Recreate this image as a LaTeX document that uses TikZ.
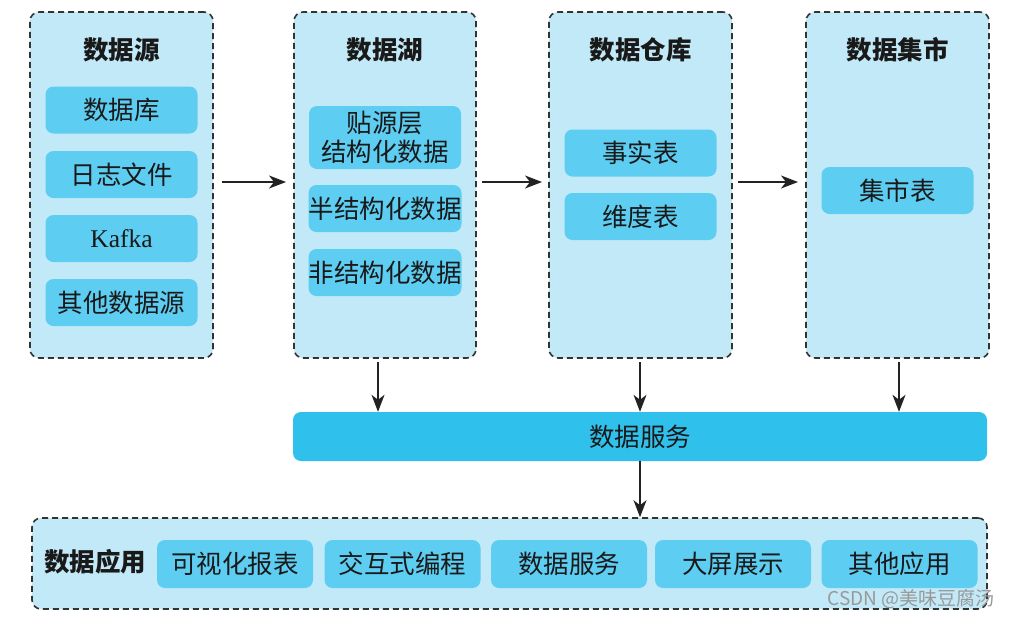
\documentclass[tikz,border=0pt]{standalone}
\usepackage{fontspec}
\setmainfont{Noto Sans CJK SC}
\newfontfamily\latinserif{Liberation Serif}
\usetikzlibrary{arrows.meta}
\definecolor{outerfill}{HTML}{C2E9F7}
\definecolor{innerfill}{HTML}{5DCDF2}
\definecolor{barfill}{HTML}{2FC1EC}
\definecolor{dashcol}{HTML}{333333}
\definecolor{arrowcol}{HTML}{222222}
\tikzset{
  outerbox/.style={draw=dashcol, fill=outerfill, line width=1.6pt, dash pattern=on 6pt off 4pt, rounded corners=9pt, inner sep=0pt},
  innerbox/.style={fill=innerfill, rounded corners=8pt, minimum width=152pt, minimum height=47pt, inner sep=0pt, font=\fontsize{25.5}{29}\selectfont, align=center, text=black!90},
  appbox/.style={innerbox, minimum width=156pt, minimum height=48pt},
  titletext/.style={font=\fontsize{25.5}{28}\selectfont\bfseries, text=black!90, inner sep=0pt},
  arr/.style={draw=arrowcol, line width=1.4pt, -{Stealth[length=17pt,width=13pt,inset=5pt]}},
}
\begin{document}
\begin{tikzpicture}[x=1pt,y=-1pt]
\useasboundingbox (0,0) rectangle (1012,619);
% outer boxes
\node[outerbox, minimum width=183pt, minimum height=346pt] (src) at (121.5,185) {};
\node[outerbox, minimum width=182pt, minimum height=346pt] (lake) at (385,185) {};
\node[outerbox, minimum width=183pt, minimum height=346pt] (dw) at (640.5,185) {};
\node[outerbox, minimum width=183pt, minimum height=346pt] (mart) at (897.5,185) {};
% titles
\node[titletext] (srct) at (121.5,50) {数据源};
\node[titletext] (laket) at (385,50) {数据湖};
\node[titletext] (dwt) at (640.5,50) {数据仓库};
\node[titletext] (martt) at (897.5,50) {数据集市};
% data source items
\node[innerbox] (s1) at (121.5,110) {数据库};
\node[innerbox] (s2) at (121.5,174.5) {日志文件};
\node[innerbox] (s3) at (121.5,238.5) {\latinserif Kafka};
\node[innerbox] (s4) at (121.5,302.5) {其他数据源};
% data lake items
\node[innerbox, minimum height=63pt] (l1) at (385,137.5) {贴源层\\结构化数据};
\node[innerbox] (l2) at (385,208.5) {半结构化数据};
\node[innerbox] (l3) at (385,272.5) {非结构化数据};
% warehouse items
\node[innerbox] (w1) at (640.5,153) {事实表};
\node[innerbox] (w2) at (640.5,216.5) {维度表};
% mart items
\node[innerbox] (m1) at (897.5,190.5) {集市表};
% service bar
\node[fill=barfill, rounded corners=8pt, minimum width=694pt, minimum height=49pt, inner sep=0pt, font=\fontsize{25.5}{29}\selectfont, text=black!90] (svc) at (640,436.5) {数据服务};
% application box
\node[outerbox, minimum width=955pt, minimum height=91pt] (app) at (509.5,563.5) {};
\node[titletext] (appt) at (95,562) {数据应用};
\node[appbox] (a1) at (235,564) {可视化报表};
\node[appbox] (a2) at (402.5,564) {交互式编程};
\node[appbox] (a3) at (569,564) {数据服务};
\node[appbox] (a4) at (733,564) {大屏展示};
\node[appbox] (a5) at (899.5,564) {其他应用};
% watermark
\node[font=\fontsize{19}{22}\selectfont, text=black!40, inner sep=0pt] (wm) at (911,599) {CSDN @美味豆腐汤};
% horizontal arrows
\coordinate (h1s) at (222,182); \coordinate (h1e) at (286,182);
\coordinate (h2s) at (482,182); \coordinate (h2e) at (542,182);
\coordinate (h3s) at (738,182); \coordinate (h3e) at (798,182);
\draw[arr] (h1s) -- (h1e);
\draw[arr] (h2s) -- (h2e);
\draw[arr] (h3s) -- (h3e);
% down arrows
\coordinate (d1) at (378,362);
\coordinate (d2) at (640,362);
\coordinate (d3) at (899,362);
\draw[arr] (d1) -- (d1 |- svc.north);
\draw[arr] (d2) -- (d2 |- svc.north);
\draw[arr] (d3) -- (d3 |- svc.north);
\draw[arr] (svc.south) -- (svc.south |- app.north);
\end{tikzpicture}
\end{document}
